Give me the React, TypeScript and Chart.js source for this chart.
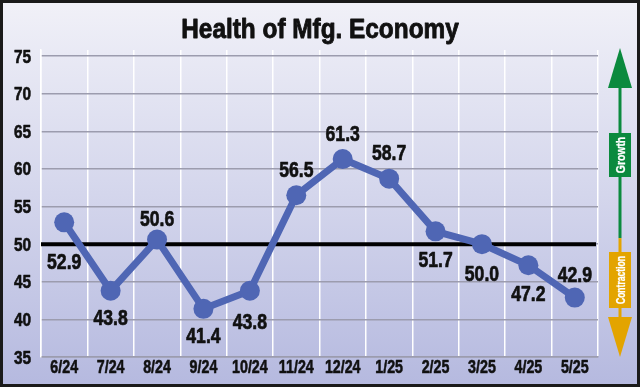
import React, { useEffect, useRef } from 'react';
import { Chart, registerables } from 'chart.js';

Chart.register(...registerables);

const months = ['6/24', '7/24', '8/24', '9/24', '10/24', '11/24', '12/24', '1/25', '2/25', '3/25', '4/25', '5/25'];
const pmiValues = [52.9, 43.8, 50.6, 41.4, 43.8, 56.5, 61.3, 58.7, 51.7, 50.0, 47.2, 42.9];
const yTicks = [35, 40, 45, 50, 55, 60, 65, 70, 75];
const thresholdValue = 50;
const titleText = 'Health of Mfg. Economy';
const growthText = 'Growth';
const contractionText = 'Contraction';
// vertical offset of each value label centre from its point (negative = above)
const labelOffsets = [39, 26, -22, 26, 30, -26, -26, -27, 28, 29, 28, -24];

const FONT = "'Liberation Sans', Arial, 'Noto Sans', sans-serif";
const TEXT = '#111111';
const LINE_BLUE = '#4F66B4';
const GREEN = '#0B8A3E';
const ORANGE = '#E3A400';

// condensed heavy text: horizontally squeezed bold sans with a thin outline
function drawText(
  ctx: CanvasRenderingContext2D,
  text: string,
  x: number,
  y: number,
  size: number,
  sx: number,
  align: CanvasTextAlign,
  color: string = TEXT,
  weight: number = 0.6
) {
  ctx.save();
  ctx.translate(x, y);
  ctx.scale(sx, 1);
  ctx.font = `bold ${size}px ${FONT}`;
  ctx.fillStyle = color;
  ctx.strokeStyle = color;
  ctx.lineWidth = weight;
  ctx.lineJoin = 'round';
  ctx.textAlign = align;
  ctx.textBaseline = 'alphabetic';
  ctx.fillText(text, 0, 0);
  if (weight > 0) ctx.strokeText(text, 0, 0);
  ctx.restore();
}

const decorPlugin = {
  id: 'decor',
  beforeDraw(chart: any) {
    const { ctx, width, height } = chart;
    ctx.save();
    const g = ctx.createLinearGradient(0, 0, 0, height);
    g.addColorStop(0, '#F1F1F8');
    g.addColorStop(0.5, '#D4D6EC');
    g.addColorStop(1, '#B5B9DF');
    ctx.fillStyle = g;
    ctx.fillRect(0, 0, width, height);
    ctx.restore();
  },
  beforeDatasetsDraw(chart: any) {
    const { ctx, chartArea, scales } = chart;
    const y = scales.y.getPixelForValue(thresholdValue);
    ctx.save();
    ctx.strokeStyle = '#000';
    ctx.lineWidth = 4;
    ctx.beginPath();
    ctx.moveTo(chartArea.left, y);
    ctx.lineTo(chartArea.right - 2, y);
    ctx.stroke();
    ctx.restore();
  },
  afterDraw(chart: any) {
    const { ctx, chartArea, scales, width, height } = chart;
    const meta = chart.getDatasetMeta(0);
    ctx.save();

    // title
    drawText(ctx, titleText, width / 2, 38, 28, 0.87, 'center', TEXT, 0.9);

    // y tick labels
    scales.y.ticks.forEach((t: any) => {
      const py = scales.y.getPixelForValue(t.value);
      drawText(ctx, String(t.value), chartArea.left - 10, py + 6.5, 18.5, 0.83, 'right');
    });

    // x tick labels
    months.forEach((m, i) => {
      const px = scales.x.getPixelForTick(i);
      drawText(ctx, m, px, chartArea.bottom + 15.5, 19, 0.75, 'center');
    });

    // value labels
    meta.data.forEach((pt: any, i: number) => {
      drawText(ctx, pmiValues[i].toFixed(1), pt.x, pt.y + labelOffsets[i] + 8, 22, 0.8, 'center', TEXT, 0.7);
    });

    // growth / contraction arrow
    const ax = 620;
    const top = chartArea.top - 2;
    const bottom = chartArea.bottom;
    const split = scales.y.getPixelForValue(thresholdValue) - 6;
    const headH = 40;
    const headW = 12;
    ctx.lineWidth = 3;
    ctx.strokeStyle = GREEN;
    ctx.beginPath();
    ctx.moveTo(ax, top + headH - 2);
    ctx.lineTo(ax, split);
    ctx.stroke();
    ctx.fillStyle = GREEN;
    ctx.beginPath();
    ctx.moveTo(ax, top);
    ctx.lineTo(ax + headW, top + headH);
    ctx.lineTo(ax - headW, top + headH);
    ctx.closePath();
    ctx.fill();

    ctx.strokeStyle = ORANGE;
    ctx.beginPath();
    ctx.moveTo(ax, split);
    ctx.lineTo(ax, bottom - headH + 2);
    ctx.stroke();
    ctx.fillStyle = ORANGE;
    ctx.beginPath();
    ctx.moveTo(ax, bottom);
    ctx.lineTo(ax + headW, bottom - headH);
    ctx.lineTo(ax - headW, bottom - headH);
    ctx.closePath();
    ctx.fill();

    const drawBox = (color: string, y0: number, h: number, text: string, sx: number) => {
      ctx.fillStyle = color;
      ctx.fillRect(ax - 11, y0, 22, h);
      ctx.save();
      ctx.translate(ax, y0 + h / 2);
      ctx.rotate(-Math.PI / 2);
      drawText(ctx, text, 0, 4.5, 13, sx, 'center', '#FFFFFF', 0.3);
      ctx.restore();
    };
    drawBox(GREEN, 133, 44, growthText, 0.8);
    drawBox(ORANGE, 252, 56, contractionText, 0.66);

    // frame
    ctx.strokeStyle = '#1a1a1a';
    ctx.lineWidth = 3;
    ctx.strokeRect(1.5, 1.5, width - 3, height - 3);
    ctx.restore();
  },
};

export default function App() {
  const canvasRef = useRef<HTMLCanvasElement | null>(null);

  useEffect(() => {
    if (!canvasRef.current) return;
    const chart = new Chart(canvasRef.current, {
      type: 'line',
      data: {
        labels: months,
        datasets: [
          {
            data: pmiValues,
            borderColor: LINE_BLUE,
            backgroundColor: LINE_BLUE,
            borderWidth: 7,
            pointRadius: 10,
            pointBackgroundColor: LINE_BLUE,
            pointBorderWidth: 0,
            tension: 0,
          },
        ],
      },
      options: {
        responsive: false,
        animation: false,
        layout: { padding: { left: 0, right: 42, top: 50, bottom: 0 } },
        plugins: {
          legend: { display: false },
          tooltip: { enabled: false },
          title: { display: false },
        },
        scales: {
          x: {
            type: 'category',
            offset: true,
            afterFit: (scale: any) => {
              scale.height = 30;
            },
            grid: { color: '#FFFFFF', lineWidth: 1.5, offset: true, drawTicks: false },
            border: { color: '#9C9CAE', width: 1.5 },
            ticks: { display: false, autoSkip: false },
          },
          y: {
            min: 35,
            max: 75.8,
            afterBuildTicks: (scale: any) => {
              scale.ticks = yTicks.map((v) => ({ value: v }));
            },
            afterFit: (scale: any) => {
              scale.width = 41;
            },
            grid: { color: '#9C9CAE', lineWidth: 1.5, drawTicks: false },
            border: { color: '#FFFFFF', width: 1.5 },
            ticks: { display: false },
          },
        },
      },
      plugins: [decorPlugin],
    });
    return () => chart.destroy();
  }, []);

  return (
    <div style={{ position: 'absolute', left: 0, top: 0, width: 640, height: 387 }}>
      <canvas ref={canvasRef} width={640} height={387} />
    </div>
  );
}
